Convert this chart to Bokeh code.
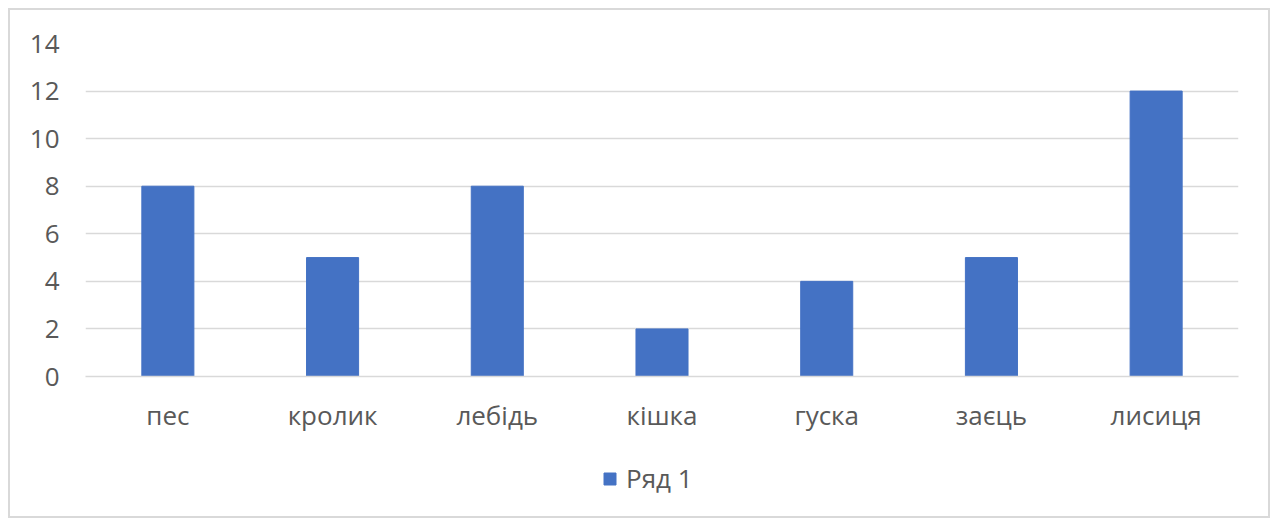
from bokeh.plotting import figure
from bokeh.layouts import column
from bokeh.models import Legend, LegendItem, Range1d, FixedTicker
from bokeh.embed import file_html
from bokeh.resources import INLINE

categories = ["пес", "кролик", "лебідь", "кішка", "гуска", "заєць", "лисиця"]
values = [8, 5, 8, 2, 4, 5, 12]
series_name = "Ряд 1"
y_ticks = [0, 2, 4, 6, 8, 10, 12, 14]

FONT = "Open Sans"
TXT = "#595959"
BAR = "#4472C4"
FS = "26px"

p = figure(x_range=categories, y_range=Range1d(0, 14), width=1258, height=440,
           output_backend="svg", toolbar_location=None,
           min_border_left=75, min_border_right=30, min_border_top=33, min_border_bottom=74)
p.x_range.range_padding = 0
p.vbar(x=categories, top=values, width=0.316, color=BAR)

p.outline_line_color = None
p.xgrid.grid_line_color = None
p.ygrid.grid_line_color = "#D9D9D9"
p.ygrid.grid_line_width = 1.3
p.yaxis.ticker = FixedTicker(ticks=y_ticks)
p.yaxis.axis_line_color = None
p.yaxis.major_tick_line_color = None
p.yaxis.minor_tick_line_color = None
p.yaxis.major_tick_out = 0
p.yaxis.minor_tick_out = 0
p.yaxis.major_label_standoff = 26
p.xaxis.axis_line_color = "#D9D9D9"
p.xaxis.axis_line_width = 1.3
p.xaxis.major_tick_line_color = None
p.xaxis.major_tick_out = 0
p.xaxis.major_label_standoff = 20
for ax in (p.xaxis[0], p.yaxis[0]):
    ax.major_label_text_font = FONT
    ax.major_label_text_font_size = FS
    ax.major_label_text_color = TXT

# legend strip below the chart (frame is aligned with the main plot's frame)
p2 = figure(x_range=p.x_range, y_range=Range1d(0, 1), width=1258, height=66,
            output_backend="svg", toolbar_location=None,
            x_axis_type=None, y_axis_type=None,
            min_border_left=0, min_border_right=0, min_border_top=0, min_border_bottom=0)
p2.outline_line_color = None
p2.grid.visible = False
r2 = p2.vbar(x=categories, top=values, width=0.316, color=BAR, visible=False)
legend = Legend(items=[LegendItem(label=series_name, renderers=[r2])],
                orientation="horizontal", location=(517, 20),
                glyph_width=15, glyph_height=15, label_text_font=FONT,
                label_text_font_size=FS, label_text_color=TXT,
                border_line_color=None, background_fill_alpha=0,
                inactive_fill_alpha=0,
                padding=0, spacing=0, label_standoff=9, margin=0)
p2.add_layout(legend)

inner = column(p, p2, spacing=0, styles={"border": "2px solid #D9D9D9"})
outer = column(inner, styles={"padding": "8px 0 0 8px"})

open("out.html", "w").write(file_html(outer, INLINE))
